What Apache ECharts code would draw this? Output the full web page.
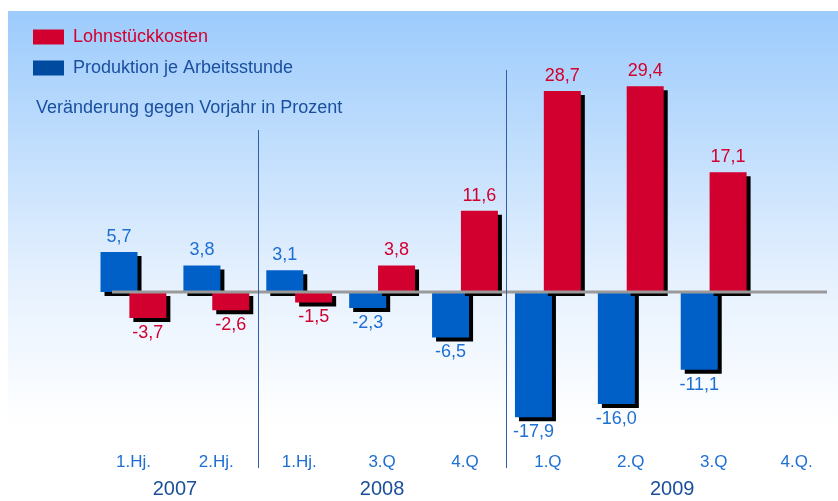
<!DOCTYPE html>
<html>
<head>
<meta charset="utf-8">
<script src="https://cdn.jsdelivr.net/npm/echarts@6/dist/echarts.min.js"></script>
<style>
  html, body { margin: 0; padding: 0; background: #fff; }
  #chart { width: 838px; height: 501px; }
</style>
</head>
<body>
<div id="chart"></div>
<script>
// Daten
const categories = ['1.Hj.', '2.Hj.', '1.Hj.', '3.Q', '4.Q', '1.Q', '2.Q', '3.Q', '4.Q.'];
const years = ['2007', '2008', '2009'];
const yearGroupSizes = [2, 3, 4]; // Anzahl Kategorien je Jahr
const produktion = [5.7, 3.8, 3.1, -2.3, -6.5, -17.9, -16.0, -11.1, null];
const lohnkosten = [-3.7, -2.6, -1.5, 3.8, 11.6, 28.7, 29.4, 17.1, null];

const FONT = "'Liberation Sans', Arial, sans-serif";
const RED = '#d2002e';
const BLUE = '#0060c8';

const chart = echarts.init(document.getElementById('chart'));

const fmt = (p) => p.value.toFixed(1).replace('.', ',');
const withLabelPos = (arr) => arr.map((v) =>
  v == null ? null : { value: v, label: { position: v < 0 ? 'bottom' : 'top' } }
);

const shadow = {
  shadowColor: '#000',
  shadowBlur: 0,
  shadowOffsetX: 4,
  shadowOffsetY: 4,
};

const noShadow = { borderWidth: 0, shadowColor: 'transparent', shadowOffsetX: 0, shadowOffsetY: 0 };

const option = {
  animation: false,
  grid: { left: 92, top: 47, width: 753, height: 399 },
  title: {
    text: 'Veränderung gegen Vorjahr in Prozent',
    left: 31,
    top: 94,
    textStyle: { color: '#1a4f9f', fontFamily: FONT, fontSize: 18, fontWeight: 'normal' },
  },
  legend: {
    orient: 'vertical',
    left: 33,
    top: 28,
    padding: 0,
    itemWidth: 31,
    itemHeight: 15,
    itemGap: 13,
    icon: 'rect',
    textStyle: { fontFamily: FONT, fontSize: 18, padding: [0, 0, 0, 4] },
    data: [
      {
        name: 'Lohnstückkosten',
        itemStyle: Object.assign({ color: RED }, noShadow),
        textStyle: { color: RED },
      },
      {
        name: 'Produktion je Arbeitsstunde',
        itemStyle: Object.assign({ color: '#004a9f' }, noShadow),
        textStyle: { color: '#1a4f9f' },
      },
    ],
  },
  xAxis: {
    type: 'category',
    data: categories,
    axisLine: { show: false },
    axisTick: { show: false },
    axisLabel: { color: '#1e6fd2', fontFamily: FONT, fontSize: 17, margin: 8 },
  },
  yAxis: {
    type: 'value',
    min: -22,
    max: 35,
    show: false,
    splitLine: { show: false },
  },
  series: [
    {
      name: 'Produktion je Arbeitsstunde',
      type: 'bar',
      data: withLabelPos(produktion),
      barWidth: 37,
      barGap: '-22%',
      itemStyle: Object.assign({ color: BLUE, borderWidth: 0 }, shadow),
      label: {
        show: true,
        distance: 6,
        formatter: fmt,
        color: '#1e6fd2',
        fontFamily: FONT,
        fontSize: 18,
      },
      emphasis: { disabled: true },
    },
    {
      name: 'Lohnstückkosten',
      type: 'bar',
      data: withLabelPos(lohnkosten),
      barWidth: 37,
      itemStyle: Object.assign({ color: RED, borderWidth: 0 }, shadow),
      label: {
        show: true,
        distance: 6,
        formatter: fmt,
        color: RED,
        fontFamily: FONT,
        fontSize: 18,
      },
      emphasis: { disabled: true },
    },
  ],
};

chart.setOption(option);

// Hintergrund, Nulllinie, Trennlinien und Jahreszahlen aus den Achsen ableiten
const px = (i) => chart.convertToPixel({ xAxisIndex: 0 }, i);
const y0 = chart.convertToPixel({ yAxisIndex: 0 }, 0);
const sepTop = [130, 70];

const graphics = [
  {
    type: 'rect',
    z: -10,
    shape: { x: 8, y: 11, width: 830, height: 490 },
    style: {
      fill: new echarts.graphic.LinearGradient(0, 0, 0, 1, [
        { offset: 0, color: '#9ccbfc' },
        { offset: 0.55, color: '#e6f1fe' },
        { offset: 0.85, color: '#ffffff' },
        { offset: 1, color: '#ffffff' },
      ]),
    },
    silent: true,
  },
  {
    type: 'line',
    z: 100,
    shape: { x1: 112, y1: y0, x2: 827, y2: y0 },
    style: { stroke: '#9a9a9a', lineWidth: 3 },
    silent: true,
  },
];

let start = 0;
yearGroupSizes.forEach((n, k) => {
  const first = start;
  const last = start + n - 1;
  graphics.push({
    type: 'text',
    z: 100,
    x: (px(first) + px(last)) / 2,
    y: 489,
    style: {
      text: years[k],
      fill: '#1b4f9c',
      font: '20px ' + FONT,
      align: 'center',
      verticalAlign: 'middle',
    },
    silent: true,
  });
  if (k < yearGroupSizes.length - 1) {
    const xs = Math.round((px(last) + px(last + 1)) / 2) + 0.5;
    graphics.push({
      type: 'line',
      z: 100,
      shape: { x1: xs, y1: sepTop[k], x2: xs, y2: 468 },
      style: { stroke: '#2e5fa8', lineWidth: 1 },
      silent: true,
    });
  }
  start += n;
});

chart.setOption({ graphic: graphics });
</script>
</body>
</html>
